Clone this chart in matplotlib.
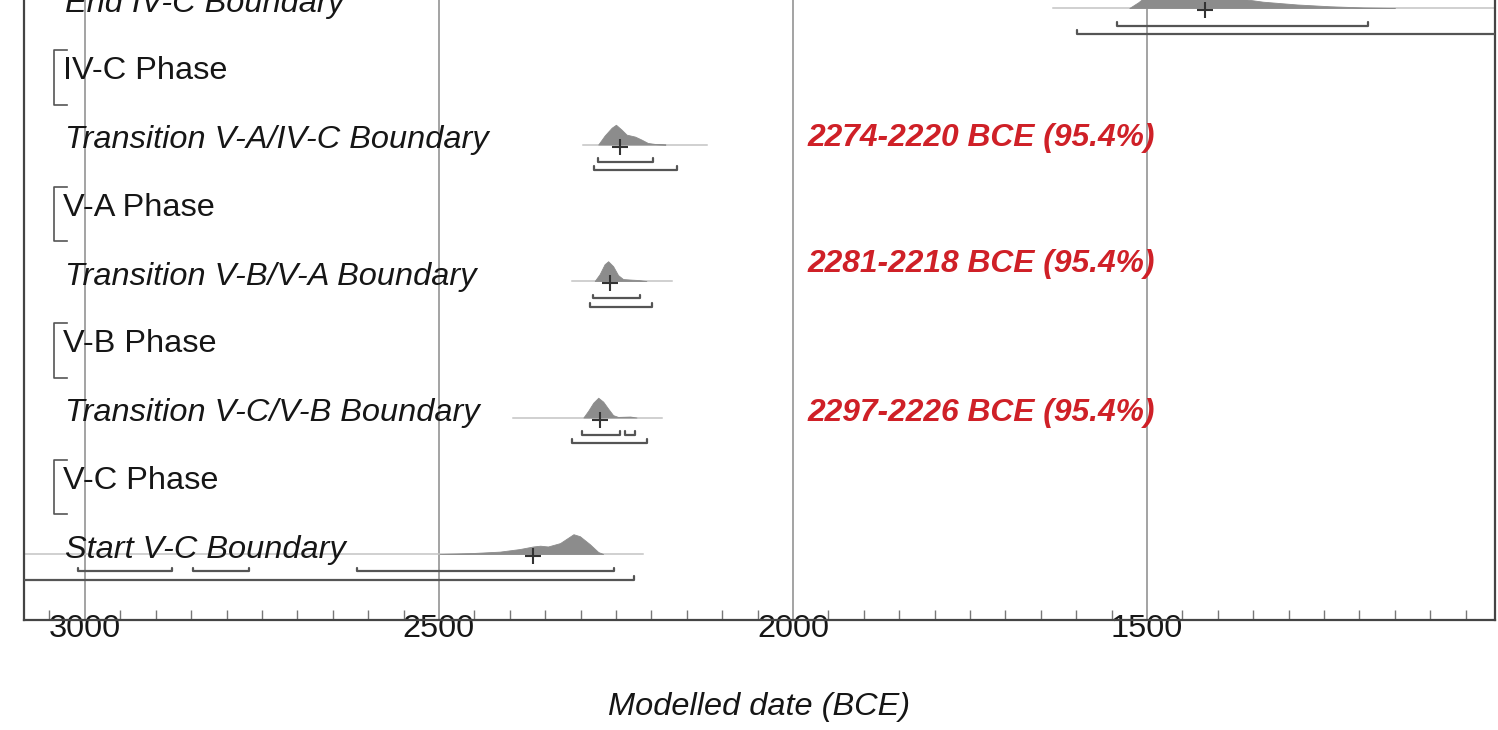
import matplotlib.pyplot as plt
from matplotlib.ticker import MultipleLocator

plt.rcParams['font.family'] = ['Liberation Sans', 'DejaVu Sans']

# rows from bottom to top (OxCal multiplot)
row_labels = ["Start V-C Boundary", "V-C Phase", "Transition V-C/V-B Boundary",
              "V-B Phase", "Transition V-B/V-A Boundary", "V-A Phase",
              "Transition V-A/IV-C Boundary", "IV-C Phase", "End IV-C Boundary"]
row_is_phase = [False, True, False, True, False, True, False, True, False]

# posterior densities (years BCE, relative height)
start_years = [2499, 2452, 2414, 2386, 2367, 2357, 2346, 2329, 2310, 2301, 2287, 2275, 2268]
start_dens = [0.0, 0.05, 0.12, 0.25, 0.38, 0.42, 0.38, 0.55, 1.0, 0.9, 0.5, 0.1, 0.0]
vcvb_years = [2296, 2289, 2282, 2275, 2268, 2261, 2254, 2247, 2238, 2230, 2221]
vcvb_dens = [0.0, 0.35, 0.75, 1.0, 0.8, 0.45, 0.12, 0.03, 0.04, 0.05, 0.0]
vbva_years = [2280, 2273, 2266, 2261, 2254, 2247, 2240, 2228, 2218, 2207]
vbva_dens = [0.0, 0.35, 0.85, 1.0, 0.75, 0.3, 0.1, 0.07, 0.05, 0.0]
vaivc_years = [2275, 2266, 2256, 2250, 2242, 2235, 2223, 2214, 2205, 2193, 2180]
vaivc_dens = [0.0, 0.45, 0.85, 1.0, 0.75, 0.5, 0.4, 0.25, 0.08, 0.02, 0.0]
end_years = [1525, 1512, 1500, 1485, 1465, 1440, 1410, 1383, 1336, 1288, 1242, 1195, 1150]
end_dens = [0.0, 0.3, 0.65, 0.9, 1.0, 0.95, 0.8, 0.55, 0.32, 0.18, 0.09, 0.03, 0.0]

# plotted span of each baseline, mean (+) and ranges
start_span = [3200, 2212]
vcvb_span = [2395, 2185]
vbva_span = [2312, 2171]
vaivc_span = [2297, 2121]
end_span = [1633, 900]
start_mean, vcvb_mean, vbva_mean, vaivc_mean, end_mean = 2367, 2273, 2258, 2244, 1418

start_r68 = [(3010, 2877), (2847, 2768), (2616, 2253)]
start_r95 = [(3200, 2225)]
vcvb_r68 = [(2298, 2244), (2237, 2223)]
vcvb_r95 = [(2312, 2206)]
vbva_r68 = [(2283, 2216)]
vbva_r95 = [(2287, 2199)]
vaivc_r68 = [(2275, 2198)]
vaivc_r95 = [(2281, 2164)]
end_r68 = [(1542, 1188)]
end_r95 = [(1599, 900)]

# red annotations
ann_texts = ["2274-2220 BCE (95.4%)", "2281-2218 BCE (95.4%)", "2297-2226 BCE (95.4%)"]
ann_rows = [6, 4, 2]

boundaries = {
    0: (start_years, start_dens, start_span, start_mean, start_r68, start_r95),
    2: (vcvb_years, vcvb_dens, vcvb_span, vcvb_mean, vcvb_r68, vcvb_r95),
    4: (vbva_years, vbva_dens, vbva_span, vbva_mean, vbva_r68, vbva_r95),
    6: (vaivc_years, vaivc_dens, vaivc_span, vaivc_mean, vaivc_r68, vaivc_r95),
    8: (end_years, end_dens, end_span, end_mean, end_r68, end_r95),
}

fig = plt.figure(figsize=(14.98, 7.30), dpi=100)
ax = fig.add_axes([24 / 1498, 110 / 730, 1471 / 1498, 680.2 / 730])
ax.set_xlim(3086, 1008.5)
ax.set_ylim(-0.967, 9)

peak_h = 0.29
line_col = "#555555"
txt_col = "#161616"


def bracket(x0, x1, y, h=0.055):
    ax.plot([x0, x0, x1, x1], [y + h, y, y, y + h], color=line_col, lw=1.6,
            solid_joinstyle="round", solid_capstyle="round", zorder=4)


for row, (yrs, dens, span, mean, r68, r95) in boundaries.items():
    ax.plot(span, [row, row], color="#c4c4c4", lw=1.1, zorder=2)
    ax.fill_between(yrs, row, [row + d * peak_h for d in dens],
                    color="#8c8c8c", lw=0.6, edgecolor="#8c8c8c", zorder=3)
    ax.plot(mean, row - 0.03, marker="+", color="#333333", ms=11, mew=1.5, zorder=5)
    for a, b in r68:
        bracket(a, b, row - 0.256)
    for a, b in r95:
        bracket(a, b, row - 0.374)

for row, (label, is_phase) in enumerate(zip(row_labels, row_is_phase)):
    if is_phase:
        ax.plot([3025, 3044, 3044, 3025], [row + 0.38, row + 0.38, row - 0.42, row - 0.42],
                color=line_col, lw=1.2, zorder=4)
        ax.text(3031, row + 0.075, label, fontsize=23.4, va="center", ha="left",
                color=txt_col, zorder=6)
    else:
        ax.text(3028, row + 0.06, label, fontsize=23.4, style="italic", va="center",
                ha="left", color=txt_col, zorder=6)

ann_offsets = [0.095, 0.25, 0.066]
for txt, row, off in zip(ann_texts, ann_rows, ann_offsets):
    ax.text(1979, row + off, txt, fontsize=22.9, style="italic", weight="bold",
            color="#cf2027", va="center", ha="left", zorder=6)

# axis styling
ax.xaxis.set_major_locator(MultipleLocator(500))
ax.xaxis.set_minor_locator(MultipleLocator(50))
ax.set_yticks([])
ax.grid(True, axis="x", which="major", color="#8a8a8a", lw=1.1, zorder=1)
ax.set_axisbelow(True)
ax.tick_params(axis="x", which="major", length=0, pad=-4, labelsize=23.4, labelcolor=txt_col)
ax.tick_params(axis="x", which="minor", direction="in", length=7, width=1, color="#777777")
for name in ["left", "bottom", "right"]:
    ax.spines[name].set_color("#444444")
    ax.spines[name].set_linewidth(1.6)
ax.spines["top"].set_visible(False)

ax.set_xlabel("Modelled date (BCE)", fontsize=23.4, style="italic", color=txt_col)
ax.xaxis.set_label_coords(0.5, -0.128)
ax.xaxis.label.set_va("center")

fig.savefig("out.png", dpi=100)
